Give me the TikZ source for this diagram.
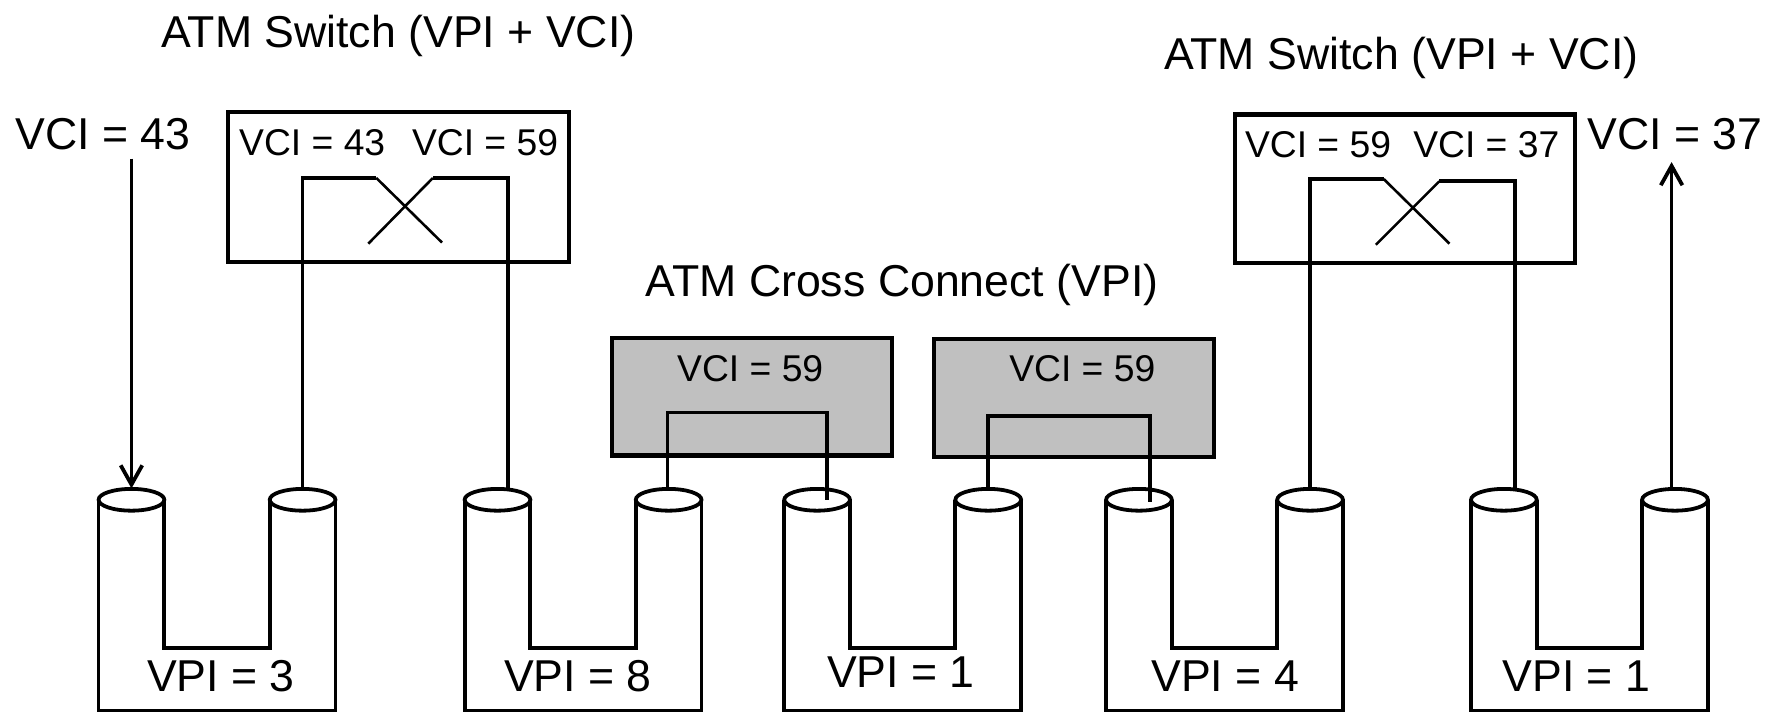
\documentclass[tikz,border=0pt]{standalone}
\usepackage{fontspec}
\setmainfont{Liberation Sans}
\usetikzlibrary{arrows.meta}
\definecolor{xcgray}{RGB}{192,192,192}
\tikzset{
  bigtext/.style={font=\fontsize{11.2}{13}\selectfont, anchor=base, inner sep=0pt},
  smalltext/.style={font=\fontsize{9.35}{11}\selectfont, anchor=base, inner sep=0pt},
  swbox/.style={draw, line width=1.1pt},
  xcbox/.style={draw, line width=1.1pt, fill=xcgray},
  wire/.style={line width=0.95pt},
  cross/.style={line width=0.65pt},
  vcarrow/.style={wire, -{Straight Barb[length=1.7mm,width=1.9mm]}},
  utube/.pic={
    \draw[wire] (0,0) -- (0,186) -- (209,186) -- (209,0);
    \draw[wire] (58,0) -- (58,131) -- (151,131) -- (151,0);
    \draw[wire] (29,0) ellipse [x radius=29, y radius=9.6];
    \draw[wire] (180,0) ellipse [x radius=29, y radius=9.6];
  }
}
\begin{document}
\begin{tikzpicture}[x=0.01cm,y=-0.01cm]
\useasboundingbox (0,0) rectangle (1568,630);
% titles
\node[bigtext] (sw1t) at (351.5,42) {ATM Switch (VPI + VCI)};
\node[bigtext] (sw2t) at (1236.5,61) {ATM Switch (VPI + VCI)};
\node[bigtext] (xct) at (796,262) {ATM Cross Connect (VPI)};
\node[bigtext] (vin) at (91,132) {VCI = 43};
\node[bigtext] (vout) at (1478,132) {VCI = 37};
% switches and cross connects
\draw[swbox] (201,99) rectangle (502,231);
\draw[swbox] (1090,101) rectangle (1390,232);
\draw[xcbox] (540,298) rectangle (787,402);
\draw[xcbox] (824,299) rectangle (1071,403);
\node[smalltext] (s1in) at (275.5,137) {VCI = 43};
\node[smalltext] (s1out) at (428,137) {VCI = 59};
\node[smalltext] (s2in) at (1163,139) {VCI = 59};
\node[smalltext] (s2out) at (1311.5,139) {VCI = 37};
\node[smalltext] (xc1) at (662,337) {VCI = 59};
\node[smalltext] (xc2) at (955,337) {VCI = 59};
% virtual paths
\pic at (87,441) {utube};
\pic at (410,441) {utube};
\pic at (692,441) {utube};
\pic at (976,441) {utube};
\pic at (1298,441) {utube};
\node[bigtext] (vpi3) at (195,610) {VPI = 3};
\node[bigtext] (vpi8) at (510,610) {VPI = 8};
\node[bigtext] (vpi1a) at (795,607) {VPI = 1};
\node[bigtext] (vpi4) at (1081,610) {VPI = 4};
\node[bigtext] (vpi1b) at (1391,610) {VPI = 1};
% tube ends
\coordinate (t1a) at (116,431);
\coordinate (t1b) at (267,431);
\coordinate (t2a) at (448,432);
\coordinate (t2b) at (589,431);
\coordinate (t3a) at (730,441);
\coordinate (t3b) at (872,431);
\coordinate (t4a) at (1015,443);
\coordinate (t4b) at (1156,431);
\coordinate (t5a) at (1337,432);
\coordinate (t5b) at (1475,431);
% switch 1
\coordinate (k1a) at (332,157);
\coordinate (e1a) at (390,214);
\coordinate (k1b) at (382,157);
\coordinate (e1b) at (325,215);
\draw[wire] (t1b) |- (k1a);
\draw[cross] (k1a) -- (e1a);
\draw[wire] (t2a) |- (k1b);
\draw[cross] (k1b) -- (e1b);
% cross connects
\coordinate (g1) at (730,364);
\coordinate (g2) at (1015,367);
\draw[wire] (t2b) |- (g1) -- (t3a);
\draw[wire] (t3b) |- (g2) -- (t4a);
% switch 2
\coordinate (k2a) at (1221,158);
\coordinate (e2a) at (1279,215);
\coordinate (k2b) at (1270,160);
\coordinate (e2b) at (1214,216);
\draw[wire] (t4b) |- (k2a);
\draw[cross] (k2a) -- (e2a);
\draw[wire] (t5a) |- (k2b);
\draw[cross] (k2b) -- (e2b);
% in and out
\coordinate (a43) at (116,140);
\coordinate (a37) at (1475,143);
\draw[vcarrow] (a43) -- (t1a);
\draw[vcarrow] (t5b) -- (a37);
\end{tikzpicture}
\end{document}
